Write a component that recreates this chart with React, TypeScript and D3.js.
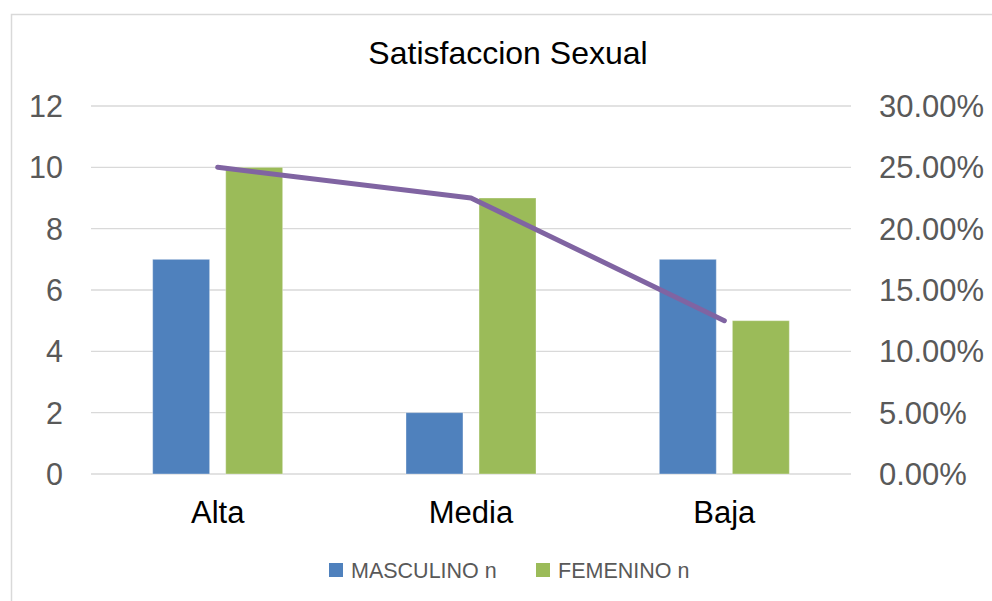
import React from "react";
import * as d3 from "d3";

// data
const categories = ["Alta", "Media", "Baja"];
const seriesNames = ["MASCULINO n", "FEMENINO n"];
const masculino = [7, 2, 7];
const femenino = [10, 9, 5];
const porcentaje = [0.25, 0.225, 0.125];
const leftTicks = [0, 2, 4, 6, 8, 10, 12];
const rightTicks = [0, 0.05, 0.1, 0.15, 0.2, 0.25, 0.3];

const W = 992;
const H = 601;
const colors = ["#4F81BD", "#9BBB59"];
const lineColor = "#8064A2";
const font = "'Liberation Sans', Arial, sans-serif";

const App = () => {
  const plot = { left: 91, right: 851, top: 106, bottom: 474 };

  const x = d3.scaleBand().domain(categories).range([plot.left, plot.right]);
  const x1 = d3.scaleBand().domain(seriesNames).range([-65, 65]).paddingInner(0.22);
  const y = d3.scaleLinear().domain([0, 12]).range([plot.bottom, plot.top]);
  const y2 = d3.scaleLinear().domain([0, 0.3]).range([plot.bottom, plot.top]);

  const values = [masculino, femenino];
  const cx = (c) => x(c) + x.bandwidth() / 2;

  const line = d3
    .line()
    .x((d, i) => cx(categories[i]))
    .y((d) => y2(d));

  return (
    <div style={{ position: "fixed", left: 0, top: 0 }}>
      <svg width={W} height={H} style={{ display: "block", background: "#fff" }}>
        {/* chart frame */}
        <rect x={11.5} y={14.5} width={W + 20} height={H + 20} fill="#fff" stroke="#d9d9d9" strokeWidth={1.5} />

        <text x={508} y={64} textAnchor="middle" fontFamily={font} fontSize={32} fill="#000">
          Satisfaccion Sexual
        </text>

        {/* gridlines */}
        {leftTicks.map((t) => (
          <line key={t} x1={plot.left} x2={plot.right} y1={y(t)} y2={y(t)} stroke="#d9d9d9" strokeWidth={1.3} />
        ))}

        {/* left axis labels */}
        {leftTicks.map((t) => (
          <text key={"l" + t} x={63} y={y(t)} dy="0.36em" textAnchor="end" fontFamily={font} fontSize={30.5} fill="#595959">
            {t}
          </text>
        ))}

        {/* right axis labels */}
        {rightTicks.map((t) => (
          <text key={"r" + t} x={879} y={y2(t)} dy="0.36em" textAnchor="start" fontFamily={font} fontSize={31} fill="#595959">
            {d3.format(".2%")(t)}
          </text>
        ))}

        {/* bars */}
        {seriesNames.map((s, si) =>
          categories.map((c, ci) => (
            <rect
              key={s + c}
              x={cx(c) + x1(s)}
              y={y(values[si][ci])}
              width={x1.bandwidth()}
              height={y(0) - y(values[si][ci])}
              fill={colors[si]}
              stroke="#fff"
              strokeOpacity={0.35}
              strokeWidth={1}
            />
          ))
        )}

        {/* percentage line */}
        <path d={line(porcentaje)} fill="none" stroke={lineColor} strokeWidth={5} strokeLinecap="round" strokeLinejoin="round" />

        {/* category labels */}
        {categories.map((c) => (
          <text key={c} x={cx(c)} y={523} textAnchor="middle" fontFamily={font} fontSize={31} fill="#000">
            {c}
          </text>
        ))}

        {/* legend */}
        {seriesNames.map((s, i) => {
          const lx = [329, 536][i];
          return (
            <g key={s} transform={`translate(${lx},563)`}>
              <rect width={14} height={14} fill={colors[i]} />
              <text x={22} y={14.5} fontFamily={font} fontSize={21.5} fill="#595959">
                {s}
              </text>
            </g>
          );
        })}
      </svg>
    </div>
  );
};

export default App;
